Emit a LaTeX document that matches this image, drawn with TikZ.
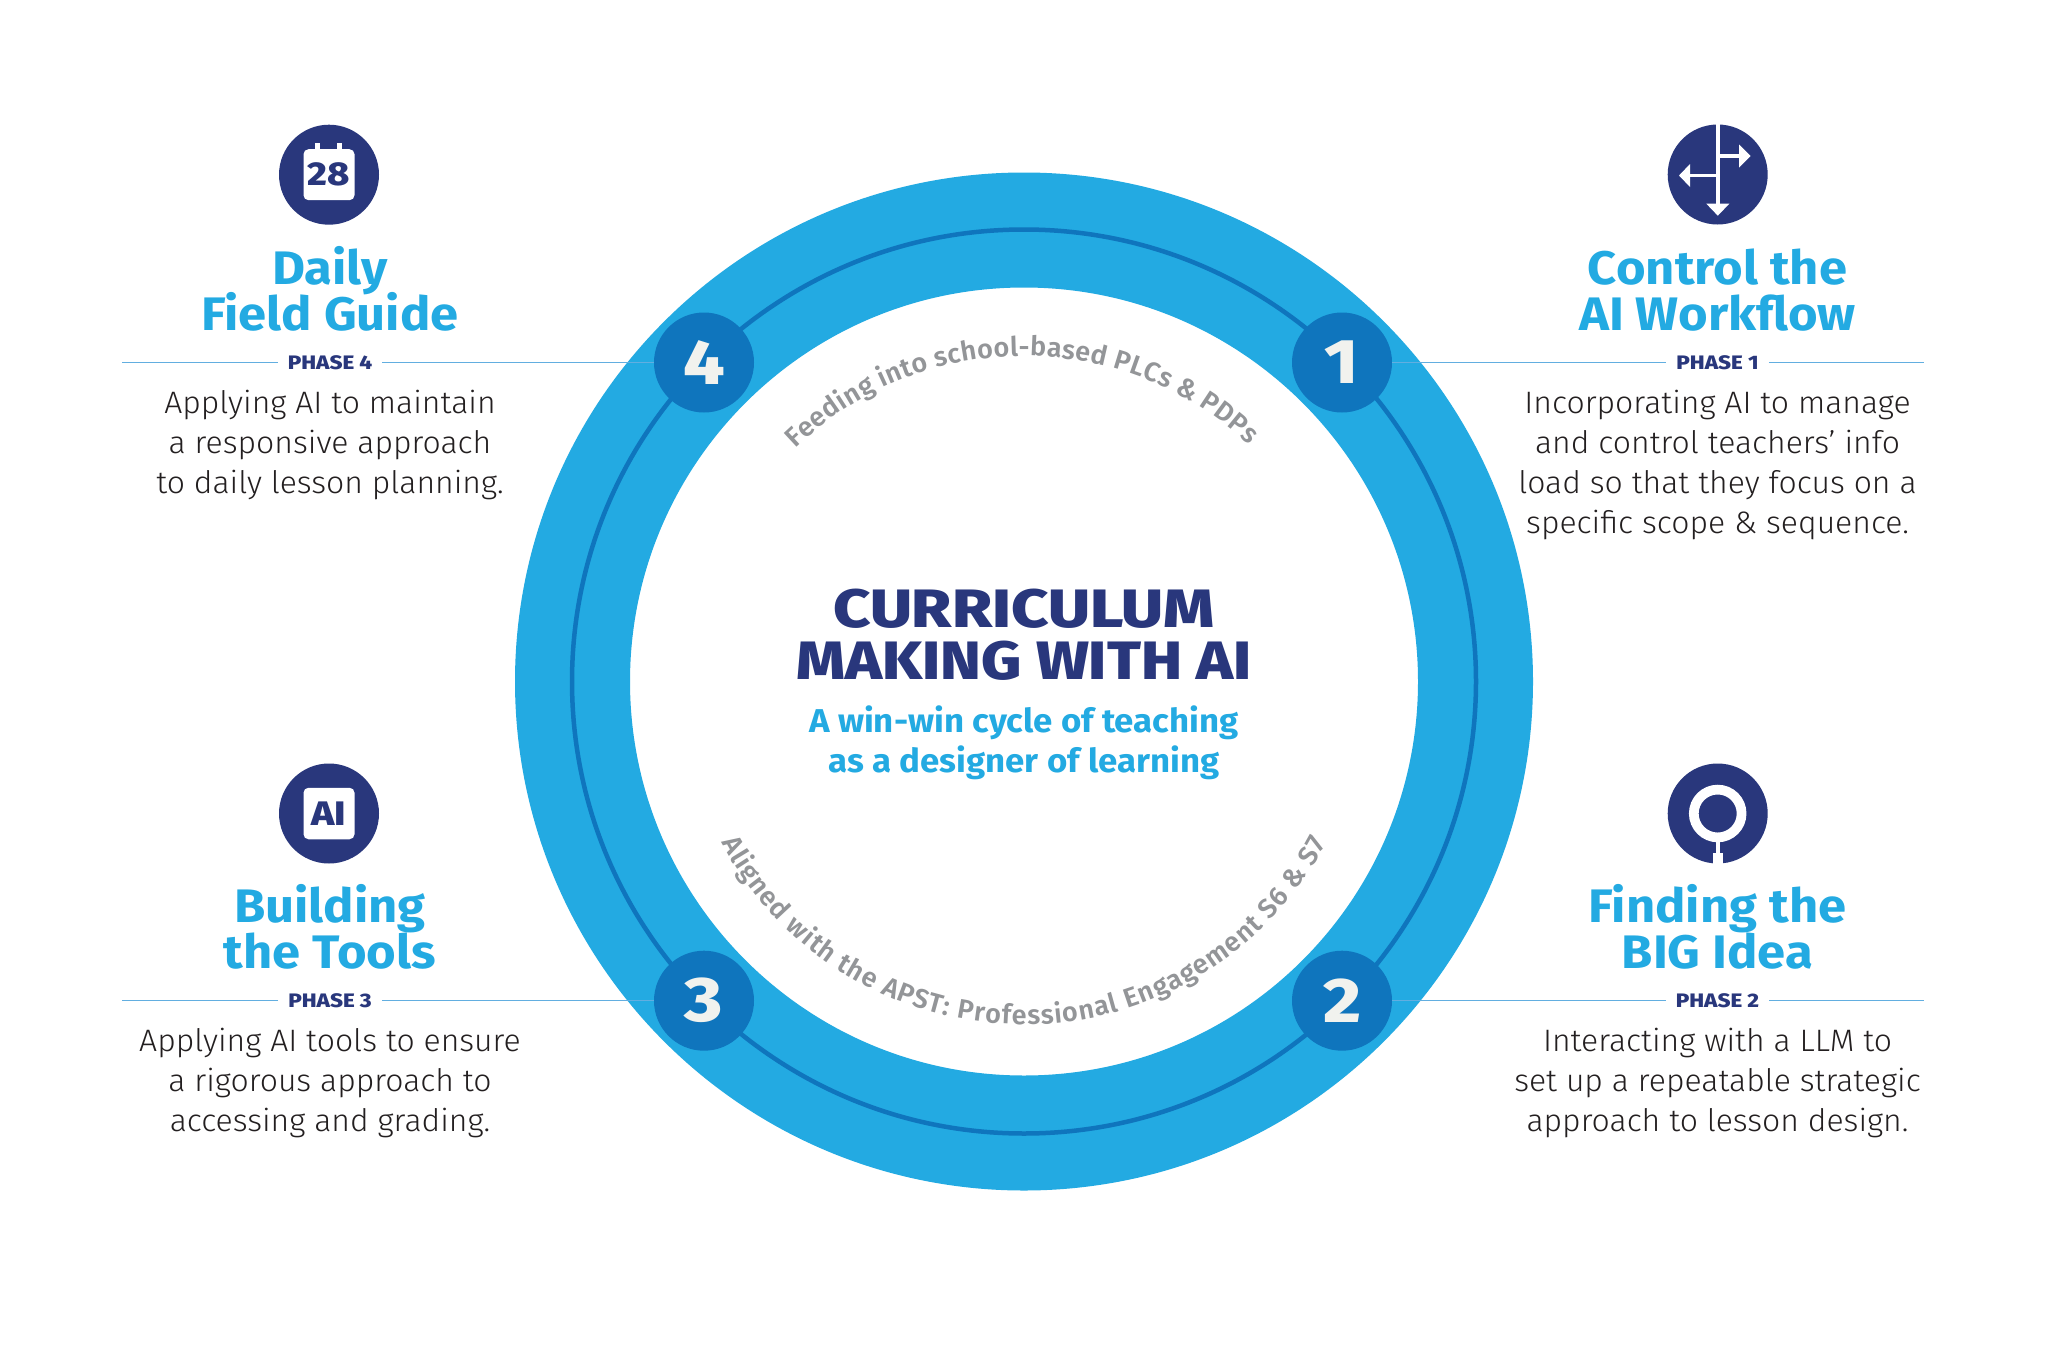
\documentclass[tikz,border=0pt]{standalone}
\usepackage{fontspec}
\usetikzlibrary{decorations.text,calc}
\setmainfont{Fira Sans}
\newfontfamily\lightf[FakeStretch=1.03]{Fira Sans Light}
\newfontfamily\boldf[FakeStretch=1.08]{Fira Sans Bold}
\newfontfamily\subf[FakeStretch=1.055]{Fira Sans Bold}
\newfontfamily\heavyf[FakeStretch=1.15]{Fira Sans ExtraBold}
\newfontfamily\centf[FakeStretch=1.2]{Fira Sans ExtraBold}
\newfontfamily\centg[FakeStretch=1.15]{Fira Sans ExtraBold}
\newfontfamily\medf{Fira Sans SemiBold}
\definecolor{ringblue}{HTML}{23AAE2}
\definecolor{deepblue}{HTML}{0F75BD}
\definecolor{navy}{HTML}{29377C}
\definecolor{digit}{HTML}{F1F2EE}
\definecolor{arcgrey}{HTML}{939598}
\definecolor{rule}{HTML}{62AEE0}
\definecolor{bodyink}{HTML}{231F20}
\tikzset{
  iconbg/.style={circle,fill=navy,minimum size=100pt,inner sep=0pt},
  numbg/.style={circle,fill=deepblue,minimum size=100pt,inner sep=0pt,text=digit,font=\heavyf\fontsize{63}{63}\selectfont},
  titletxt/.style={anchor=base,inner sep=0pt,text=ringblue,align=center,font=\boldf\fontsize{47}{46}\selectfont},
  phasetxt/.style={inner sep=0pt,text=navy,font=\heavyf\fontsize{19.5}{20}\selectfont},
  bodytxt/.style={anchor=base,inner sep=0pt,text=bodyink,align=center,font=\lightf\fontsize{31}{40}\selectfont},
  centretxt/.style={anchor=base,inner sep=0pt,text=navy},
  subtxt/.style={anchor=base,inner sep=0pt,text=ringblue,font=\subf\fontsize{33}{33}\selectfont},
  phaserule/.style={draw=rule,line width=1.5pt},
  arctext/.style={decorate,decoration={text along path,text align=fit to path,raise=0pt}},
}
\newcommand{\arcfont}{\medf\fontsize{27}{27}\selectfont}
\begin{document}
\begin{tikzpicture}[x=1pt,y=-1pt]
\useasboundingbox (0,0) rectangle (2048,1365);
\fill[white] (0,0) rectangle (2048,1365);
\coordinate (c) at (1024,681.5);
\coordinate (ctop) at (1024,685);
% ring
\fill[ringblue,even odd rule] (c) circle[radius=509pt] (c) circle[radius=394pt];
\draw[deepblue,line width=4.5pt] (c) circle[radius=452pt];
% arc captions
\path[arctext,decoration={text={|\arcfont\color{arcgrey}|Feeding into school-based PLCs {\&} PDPs}}]
  (ctop) ++(134:329pt) arc[start angle=134,end angle=47,radius=329pt];
\path[arctext,decoration={text={|\arcfont\color{arcgrey}|Aligned with the APST: Professional Engagement S6 {\&} S7}}]
  (c) ++(208:343pt) arc[start angle=208,end angle=332,radius=343pt];
% number nodes
\node[numbg] (n1) at (1342,362.5) {1};
\node[numbg] (n2) at (1342,1000.7) {2};
\node[numbg] (n3) at (704,1000.7) {3};
\node[numbg] (n4) at (704,362.5) {4};
% phase labels and rules
\node[phasetxt] (p1) at (1717.5,362.5) {PHASE 1};
\node[phasetxt] (p2) at (1717.5,1000.7) {PHASE 2};
\node[phasetxt] (p3) at (330,1000.7) {PHASE 3};
\node[phasetxt] (p4) at (330,362.5) {PHASE 4};
\coordinate (r1) at (1924,362.5);
\coordinate (r2) at (1924,1000.7);
\coordinate (l3) at (122,1000.7);
\coordinate (l4) at (122,362.5);
\draw[phaserule] (n1.east) -- ([xshift=-10pt]p1.west);
\draw[phaserule] ([xshift=10pt]p1.east) -- (r1);
\draw[phaserule] (n2.east) -- ([xshift=-10pt]p2.west);
\draw[phaserule] ([xshift=10pt]p2.east) -- (r2);
\draw[phaserule] (n3.west) -- ([xshift=10pt]p3.east);
\draw[phaserule] ([xshift=-10pt]p3.west) -- (l3);
\draw[phaserule] (n4.west) -- ([xshift=10pt]p4.east);
\draw[phaserule] ([xshift=-10pt]p4.west) -- (l4);
% centre
\node[centretxt,font=\centf\fontsize{54}{54}\selectfont] (t1) at (1024,627) {CURRICULUM};
\node[centretxt,font=\centg\fontsize{54}{54}\selectfont] (t2) at (1024,679.5) {MAKING WITH AI};
\node[subtxt] (s1) at (1024,732.7) {A win-win cycle of teaching};
\node[subtxt] (s2) at (1024,772.5) {as a designer of learning};
% titles
\node[titletxt] (h1a) at (1717.5,284) {Control the};
\node[titletxt] (h1b) at (1717.5,330.5) {AI Workflow};
\node[titletxt] (h2a) at (1717.5,922.5) {Finding the};
\node[titletxt] (h2b) at (1717.5,968.5) {BIG Idea};
\node[titletxt] (h3a) at (330,922.5) {Building};
\node[titletxt] (h3b) at (330,968.5) {the Tools};
\node[titletxt] (h4a) at (330,284) {Daily};
\node[titletxt] (h4b) at (330,330.5) {Field Guide};
% body
\node[bodytxt] (b1) at (1717.5,533) {Incorporating AI to manage\\and control teachers’ info\\load so that they focus on a\\specific scope \& sequence.};
\node[bodytxt] (b2) at (1717.5,1131) {Interacting with a LLM to\\set up a repeatable strategic\\approach to lesson design.};
\node[bodytxt] (b3) at (330,1131) {Applying AI tools to ensure\\a rigorous approach to\\accessing and grading.};
\node[bodytxt] (b4) at (330,493) {Applying AI to maintain\\a responsive approach\\to daily lesson planning.};
% icon 1: arrows
\node[iconbg] (i1) at (1717.7,174.5) {};
\draw[white,line width=4.3pt] (1717.8,124) -- (1717.8,206);
\draw[white,line width=3.6pt] (1717.8,156) -- (1741,156);
\fill[white] (1750.5,156) -- (1739,144.5) -- (1739,167.5) -- cycle;
\draw[white,line width=3.6pt] (1717.8,175.5) -- (1688,175.5);
\fill[white] (1679,175.5) -- (1690,164) -- (1690,187) -- cycle;
\fill[white] (1717.8,215.7) -- (1706.3,203.7) -- (1729.3,203.7) -- cycle;
% icon 2: target
\node[iconbg] (i2) at (1717.7,813.5) {};
\draw[white,line width=9.7pt] (i2) circle[radius=23.9pt];
\fill[white] (1715.5,838) rectangle (1720,853);
\fill[white] (1712.7,852.7) rectangle (1722.7,864);
% icon 3: AI
\node[iconbg] (i3) at (329,813.5) {};
\node[fill=white,rounded corners=5pt,minimum width=51pt,minimum height=51.5pt,inner sep=0pt,text=navy,font=\heavyf\fontsize{34}{34}\selectfont] (i3t) at (329,813.5) {AI};
% icon 4: calendar
\node[iconbg] (i4) at (329,174.7) {};
\fill[white] (315,142.7) rectangle (320,152);
\fill[white] (337.3,142.7) rectangle (342.3,152);
\node[fill=white,rounded corners=5pt,minimum width=51pt,minimum height=51pt,inner sep=0pt,text=navy,font=\heavyf\fontsize{33}{33}\selectfont] (i4t) at (329,174.7) {\raisebox{-1.5pt}{28}};
\end{tikzpicture}
\end{document}
